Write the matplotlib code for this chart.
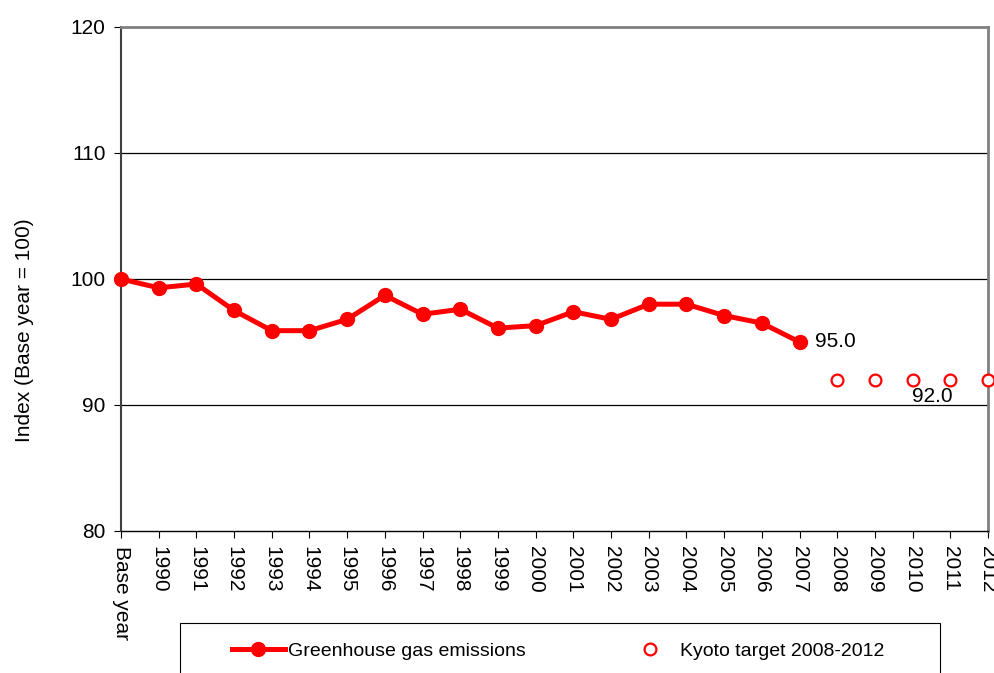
import matplotlib
matplotlib.use("Agg")
import matplotlib.pyplot as plt
from matplotlib.lines import Line2D
from matplotlib.patches import Rectangle

plt.rcParams["font.family"] = ["Liberation Sans", "DejaVu Sans"]

# --- data ---
categories = ["Base year", "1990", "1991", "1992", "1993", "1994", "1995", "1996",
              "1997", "1998", "1999", "2000", "2001", "2002", "2003", "2004",
              "2005", "2006", "2007", "2008", "2009", "2010", "2011", "2012"]
emissions = [100.0, 99.3, 99.6, 97.5, 95.9, 95.9, 96.8, 98.7, 97.2, 97.6, 96.1,
             96.3, 97.4, 96.8, 98.0, 98.0, 97.1, 96.5, 95.0]
kyoto_years = ["2008", "2009", "2010", "2011", "2012"]
kyoto_target = [92.0, 92.0, 92.0, 92.0, 92.0]

RED = "#ff0000"
FS = 15
FS_LEG = 14

fig = plt.figure(figsize=(9.94, 6.73), dpi=100)
ax = fig.add_axes([121 / 994, 1 - 531 / 673, (988 - 121) / 994, (531 - 27) / 673])

x_em = list(range(len(emissions)))
x_ky = [categories.index(y) for y in kyoto_years]

ax.plot(x_em, emissions, color=RED, lw=3.6, marker="o", ms=10, zorder=3, clip_on=False)
ax.plot(x_ky, kyoto_target, ls="none", marker="o", ms=8.5, mfc="white", mec=RED,
        mew=1.6, zorder=3, clip_on=False)

# data labels
ax.annotate(f"{emissions[-1]:.1f}", (x_em[-1], emissions[-1]), xytext=(11, 0),
            textcoords="offset points", va="center", ha="left", fontsize=FS)
ax.annotate(f"{kyoto_target[2]:.1f}", (x_ky[2], kyoto_target[2]), xytext=(14, -12),
            textcoords="offset points", va="center", ha="center", fontsize=FS)

ax.set_xlim(0, len(categories) - 1)
ax.set_ylim(80, 120)
ax.set_yticks([80, 90, 100, 110, 120])
ax.set_xticks(range(len(categories)))
ax.set_xticklabels(categories, rotation=-90, va="top", ha="center", fontsize=FS)
ax.tick_params(axis="y", labelsize=FS, length=5, direction="out", pad=6)
ax.tick_params(axis="x", length=5, direction="out", pad=6)

for v in [90, 100, 110]:
    ax.axhline(v, color="black", lw=0.9, zorder=1)

ax.spines["top"].set_color("#808080")
ax.spines["right"].set_color("#808080")
ax.spines["top"].set_linewidth(2)
ax.spines["right"].set_linewidth(2)
ax.spines["left"].set_color("#404040")
ax.spines["left"].set_linewidth(1.5)
ax.spines["bottom"].set_color("black")
ax.spines["bottom"].set_linewidth(1)

ax.set_ylabel("Index (Base year = 100)", fontsize=FS)
ax.yaxis.set_label_coords(-0.100, 0.399)

# legend box (runs off the bottom edge like the original)
fig.patches.append(Rectangle((180 / 994, -0.05), (940 - 180) / 994, 0.05 + 50 / 673,
                             transform=fig.transFigure, fill=False,
                             edgecolor="black", lw=0.8))
handles = [
    Line2D([], [], color=RED, lw=3.6, marker="o", ms=10),
    Line2D([], [], ls="none", marker="o", ms=8.5, mfc="white", mec=RED, mew=1.6),
]
fig.legend(handles, ["Greenhouse gas emissions", "Kyoto target 2008-2012"],
           loc="center left", bbox_to_anchor=(232 / 994, 1 - 651 / 673), ncol=2,
           frameon=False, fontsize=FS_LEG, handlelength=2.7, handletextpad=0.2,
           columnspacing=5.0, borderpad=0, borderaxespad=0)

fig.savefig("out.png", dpi=100)
